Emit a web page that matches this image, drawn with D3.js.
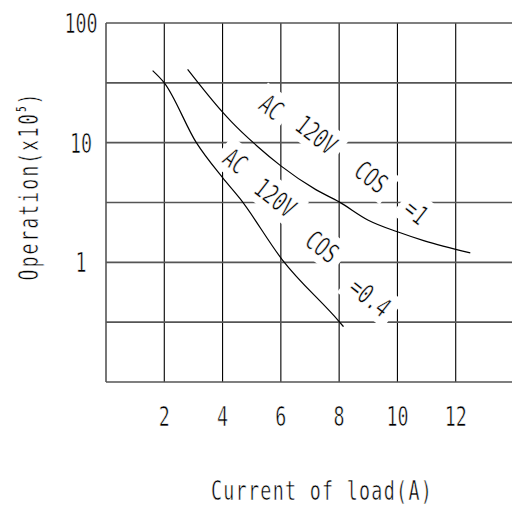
<!DOCTYPE html>
<html>
<head>
<meta charset="utf-8">
<script src="https://cdn.jsdelivr.net/npm/d3@7"></script>
<style>
  body { margin: 0; background: #fff; }
  svg { display: block; }
  text { font-family: "DejaVu Sans Mono", monospace; fill: #000; stroke: #fff; stroke-width: 0.6px; }
</style>
</head>
<body>
<script>
// datos
const xTicks = [2, 4, 6, 8, 10, 12];
const yTicks = [1, 10, 100];
const gridX = [0, 2, 4, 6, 8, 10, 12, 14];
const gridY = [0.1, 0.3162, 1, 3.162, 10, 31.62, 100];

// cos = 1
const cos1X = [2.8, 4.0, 4.3, 5.2, 6.0, 7.2, 8.0, 9.0, 10.0, 10.9, 12.5];
const cos1Y = [41, 18, 15, 9.3, 6.4, 4.05, 3.2, 2.25, 1.8, 1.52, 1.2];
// cos = 0.4
const cos04X = [1.6, 2.0, 3.1, 4.0, 4.6, 6.05, 8.0, 8.15];
const cos04Y = [40, 31.6, 10, 5.1, 3.4, 1.05, 0.32, 0.29];

// etiquetas de las curvas (palabra, x, y)
const labelWords = ["AC", "120V", "COS", "=1", "AC", "120V", "COS", "=0.4"];
const labelX = [5.69, 7.23, 9.11, 10.65, 4.45, 5.82, 7.43, 9.07];
const labelY = [19.9, 11.7, 5.2, 2.66, 7.08, 3.48, 1.36, 0.515];

const W = 512, H = 506;
const FS = 27, SX = 0.68;

const svg = d3.select("body").append("svg")
    .attr("width", W)
    .attr("height", H);

const x = d3.scaleLinear().domain([0, 14]).range([106, 514]);
const y = d3.scaleLog().domain([0.1, 100]).range([382, 23]);

// rejilla
svg.append("g").selectAll("line")
    .data(gridX)
    .enter().append("line")
    .attr("x1", d => x(d)).attr("x2", d => x(d))
    .attr("y1", y(100)).attr("y2", y(0.1))
    .attr("stroke", d => d === 0 ? "#555" : "#000")
    .attr("stroke-width", d => d === 0 ? 1.6 : 1.1);

svg.append("g").selectAll("line")
    .data(gridY)
    .enter().append("line")
    .attr("x1", x(0)).attr("x2", x(14))
    .attr("y1", d => y(d)).attr("y2", d => y(d))
    .attr("stroke", "#555")
    .attr("stroke-width", 1.6);

// etiquetas de los ejes
svg.append("g").selectAll("text")
    .data(yTicks)
    .enter().append("text")
    .attr("text-anchor", "middle")
    .attr("font-size", FS)
    .attr("transform", d => `translate(81,${y(d) + 10}) scale(${SX},1)`)
    .text(d => d);

svg.append("g").selectAll("text")
    .data(xTicks)
    .enter().append("text")
    .attr("text-anchor", "middle")
    .attr("font-size", FS)
    .attr("transform", d => `translate(${x(d)},426) scale(${SX},1)`)
    .text(d => d);

svg.append("text")
    .attr("text-anchor", "middle")
    .attr("font-size", FS)
    .attr("letter-spacing", 1.9)
    .attr("transform", `translate(322,500) scale(${SX},1)`)
    .text("Current of load(A)");

const yTitle = svg.append("text")
    .attr("text-anchor", "middle")
    .attr("font-size", FS)
    .attr("letter-spacing", 2.8)
    .attr("transform", `translate(38,186) rotate(-90) scale(${SX},1)`);
yTitle.append("tspan").text("Operation(x10");
yTitle.append("tspan").attr("font-size", 14).attr("dy", -12)
    .style("stroke-width", "0.15px").text("5");
yTitle.append("tspan").attr("dy", 12).text(")");

// etiquetas sobre las curvas, con fondo blanco
const labels = svg.append("g").selectAll("g")
    .data(labelWords)
    .enter().append("g")
    .attr("transform", (d, i) => `translate(${x(labelX[i])},${y(labelY[i])}) rotate(38)`);

labels.append("rect").attr("fill", "#fff");
labels.append("text")
    .attr("text-anchor", "middle")
    .attr("font-size", FS)
    .attr("dy", 10)
    .attr("transform", `scale(${SX},1)`)
    .text(d => d);

labels.each(function() {
    const g = d3.select(this);
    const w = g.select("text").node().getComputedTextLength() * SX;
    g.select("rect")
        .attr("x", -w / 2 - 7).attr("y", -17)
        .attr("width", w + 14).attr("height", 34);
});

// curvas
const line = d3.line()
    .x(d => x(d[0]))
    .y(d => y(d[1]))
    .curve(d3.curveMonotoneX);

svg.append("path")
    .datum(cos1X.map((v, i) => [v, cos1Y[i]]))
    .attr("d", line)
    .attr("fill", "none")
    .attr("stroke", "#000")
    .attr("stroke-width", 1.2);

svg.append("path")
    .datum(cos04X.map((v, i) => [v, cos04Y[i]]))
    .attr("d", line)
    .attr("fill", "none")
    .attr("stroke", "#000")
    .attr("stroke-width", 1.2);
</script>
</body>
</html>
